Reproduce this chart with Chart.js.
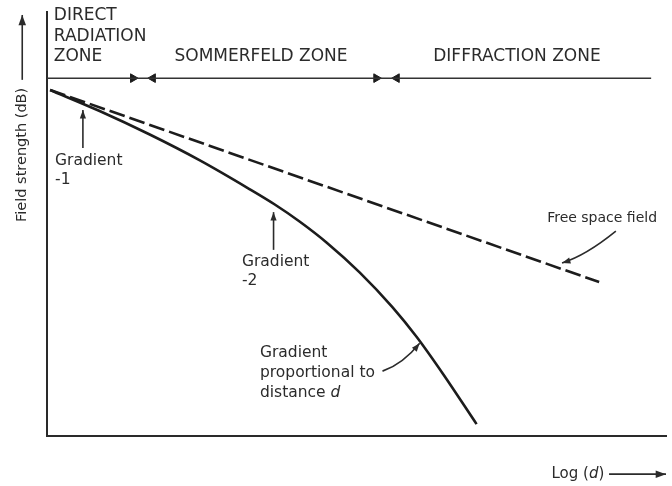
<!DOCTYPE html>
<html>
<head>
<meta charset="utf-8">
<script src="https://cdn.jsdelivr.net/npm/chart.js@4/dist/chart.umd.min.js"></script>
<style>
  html, body { margin: 0; padding: 0; background: #fff; }
  #wrap { width: 672px; height: 486px; }
</style>
</head>
<body>
<div id="wrap"><canvas id="field-chart"></canvas></div>
<script>
// log(d) on x, field strength (dB) on y, both in relative units 0-100
var logD = [0.5, 8.5, 16.6, 24.7, 32.7, 36.8, 40.8, 45.2, 50.5, 55.8, 59.7, 63.9, 69.4];
var groundWave = [81.6, 76.65, 71.1, 65.0, 58.25, 54.6, 50.6, 45.6, 38.6, 30.4, 23.4, 14.8, 2.8];

var freeSpaceD = [0.5, 89.2];
var freeSpace = [81.6, 36.3];

// zone boundary line across the top and its arrow heads
var zoneLineD = [0, 97.6];
var zoneLevel = 84.4;
var boundaryRight = [13.9, 53.2];
var boundaryLeft = [17.1, 56.5];

function pts(xs, ys) {
  return xs.map(function (v, i) { return { x: v, y: ys[i] }; });
}

var ink = '#1c1c1c';
var textInk = '#2b2b2b';
var font = '"DejaVu Sans", sans-serif';

function arrow(ctx, x1, y1, x2, y2, head, cx, cy) {
  ctx.beginPath();
  ctx.moveTo(x1, y1);
  if (cx !== undefined) ctx.quadraticCurveTo(cx, cy, x2, y2);
  else ctx.lineTo(x2, y2);
  ctx.stroke();
  var fx = cx !== undefined ? cx : x1, fy = cy !== undefined ? cy : y1;
  var a = Math.atan2(y2 - fy, x2 - fx);
  ctx.beginPath();
  ctx.moveTo(x2, y2);
  ctx.lineTo(x2 - head * Math.cos(a - 0.35), y2 - head * Math.sin(a - 0.35));
  ctx.lineTo(x2 - head * Math.cos(a + 0.35), y2 - head * Math.sin(a + 0.35));
  ctx.closePath();
  ctx.fill();
}

var notes = {
  id: 'notes',
  afterDraw: function (chart) {
    var ctx = chart.ctx, xs = chart.scales.x, ys = chart.scales.y;
    var X = function (v) { return xs.getPixelForValue(v); };
    var Y = function (v) { return ys.getPixelForValue(v); };
    ctx.save();
    ctx.fillStyle = textInk;
    ctx.strokeStyle = textInk;
    ctx.textBaseline = 'middle';
    ctx.textAlign = 'left';

    // zone names
    ctx.font = '17px ' + font;
    ctx.fillText('DIRECT', X(1.1), Y(99.1));
    ctx.fillText('RADIATION', X(1.1), Y(94.3));
    ctx.fillText('ZONE', X(1.1), Y(89.6));
    ctx.fillText('SOMMERFELD ZONE', X(20.6), Y(89.4));
    ctx.fillText('DIFFRACTION ZONE', X(62.4), Y(89.4));

    // gradient notes
    ctx.font = '15.5px ' + font;
    ctx.fillText('Gradient', X(1.3), Y(64.9));
    ctx.fillText('-1', X(1.3), Y(60.4));
    ctx.fillText('Gradient', X(31.5), Y(41.0));
    ctx.fillText('-2', X(31.5), Y(36.6));
    ctx.fillText('Gradient', X(34.4), Y(19.6));
    ctx.fillText('proportional to', X(34.4), Y(14.9));
    ctx.fillText('distance ', X(34.4), Y(10.1));
    var w = ctx.measureText('distance ').width;
    ctx.font = 'italic 15.5px ' + font;
    ctx.fillText('d', X(34.4) + w, Y(10.1));

    ctx.font = '14px ' + font;
    ctx.fillText('Free space field', X(80.8), Y(51.4));

    ctx.lineWidth = 1.6;
    arrow(ctx, X(5.8), Y(67.9), X(5.8), Y(76.9), 9);
    arrow(ctx, X(36.6), Y(43.9), X(36.6), Y(52.8), 9);
    arrow(ctx, X(54.2), Y(15.3), X(60.2), Y(21.9), 9, X(57.5), Y(17.0));
    arrow(ctx, X(91.9), Y(48.3), X(83.2), Y(40.8), 9, X(87.0), Y(42.5));

    // axis titles
    ctx.font = '15px ' + font;
    ctx.fillText('Log (', X(81.5), Y(-9.0));
    var lw = ctx.measureText('Log (').width;
    ctx.font = 'italic 15px ' + font;
    ctx.fillText('d', X(81.5) + lw, Y(-9.0));
    var dw = ctx.measureText('d').width;
    ctx.font = '15px ' + font;
    ctx.fillText(')', X(81.5) + lw + dw, Y(-9.0));
    arrow(ctx, X(90.8), Y(-9.0), X(100), Y(-9.0), 11);

    ctx.save();
    ctx.translate(X(-4.0), Y(66.3));
    ctx.rotate(-Math.PI / 2);
    ctx.textAlign = 'center';
    ctx.font = '14.5px ' + font;
    ctx.fillText('Field strength (dB)', 0, 0);
    ctx.restore();
    arrow(ctx, X(-4.0), Y(84.0), X(-4.0), Y(99.3), 11);

    ctx.restore();
  }
};

var ctx = document.getElementById('field-chart');
var fieldChart = new Chart(ctx, {
  type: 'scatter',
  data: {
    datasets: [
      {
        label: 'Zone boundaries',
        data: pts(zoneLineD, [zoneLevel, zoneLevel]),
        showLine: true,
        borderColor: '#333',
        borderWidth: 1.5,
        pointRadius: 0
      },
      {
        label: 'Boundary right',
        data: pts(boundaryRight, boundaryRight.map(function () { return zoneLevel; })),
        pointStyle: 'triangle',
        rotation: 90,
        pointRadius: 5,
        backgroundColor: ink,
        borderColor: ink,
        borderWidth: 1
      },
      {
        label: 'Boundary left',
        data: pts(boundaryLeft, boundaryLeft.map(function () { return zoneLevel; })),
        pointStyle: 'triangle',
        rotation: -90,
        pointRadius: 5,
        backgroundColor: ink,
        borderColor: ink,
        borderWidth: 1
      },
      {
        label: 'Free space field',
        data: pts(freeSpaceD, freeSpace),
        showLine: true,
        borderColor: ink,
        borderWidth: 2.6,
        borderDash: [16, 5],
        pointRadius: 0
      },
      {
        label: 'Field strength',
        data: pts(logD, groundWave),
        showLine: true,
        borderColor: ink,
        borderWidth: 2.6,
        cubicInterpolationMode: 'monotone',
        pointRadius: 0
      }
    ]
  },
  options: {
    responsive: true,
    maintainAspectRatio: false,
    animation: false,
    layout: { padding: { left: 47, top: 12, right: 5, bottom: 50 } },
    plugins: { legend: { display: false }, tooltip: { enabled: false } },
    scales: {
      x: {
        type: 'linear', min: 0, max: 100,
        grid: { display: false, drawTicks: false },
        border: { display: true, color: '#2a2a2a', width: 2 },
        ticks: { display: false }
      },
      y: {
        type: 'linear', min: 0, max: 100,
        grid: { display: false, drawTicks: false },
        border: { display: true, color: '#2a2a2a', width: 2 },
        ticks: { display: false }
      }
    }
  },
  plugins: [notes]
});
</script>
</body>
</html>
